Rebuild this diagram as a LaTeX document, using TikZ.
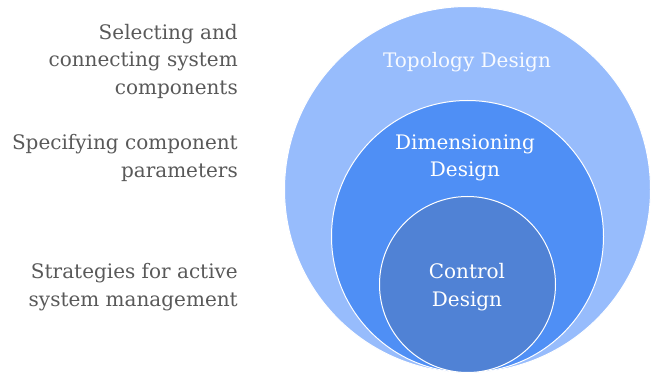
\documentclass[tikz,border=0pt]{standalone}
\usepackage{fontspec}
\setmainfont{DejaVu Serif}
\usetikzlibrary{positioning}
\definecolor{topoblue}{HTML}{97BCFC}
\definecolor{dimblue}{HTML}{4F8FF5}
\definecolor{ctrlblue}{HTML}{5082D5}
\definecolor{notegray}{HTML}{595959}
\begin{document}
\begin{tikzpicture}[x=1pt, y=-1pt,
disc/.style={circle, draw=white, line width=1pt, inner sep=0pt},
note/.style={anchor=east, align=right, text=notegray, inner sep=0pt, font=\fontsize{20}{27.5}\selectfont},
intxt/.style={align=center, text=white, inner sep=0pt, font=\fontsize{20}{27.5}\selectfont}]

\useasboundingbox (0,0) rectangle (654,377);

\node[disc, fill=topoblue, minimum size=366pt] (topo) at (467.5,189.5) {};
\node[disc, fill=dimblue,  minimum size=272pt] (dim)  at (467.5,236.5) {};
\node[disc, fill=ctrlblue, minimum size=176pt] (ctrl) at (467.5,284.5) {};

\node[intxt, text=white!92!topoblue] (topotxt) at (467,62)  {Topology Design};
\node[intxt] (dimtxt)  at (465,158) {Dimensioning\\Design};
\node[intxt] (ctrltxt) at (467,287) {Control\\Design};

\node[note] (sel)   at (238,61)  {Selecting and\\connecting system\\components};
\node[note] (spec)  at (238,158) {Specifying component\\parameters};
\node[note] (strat) at (238,287) {Strategies for active\\system management};

\end{tikzpicture}
\end{document}
